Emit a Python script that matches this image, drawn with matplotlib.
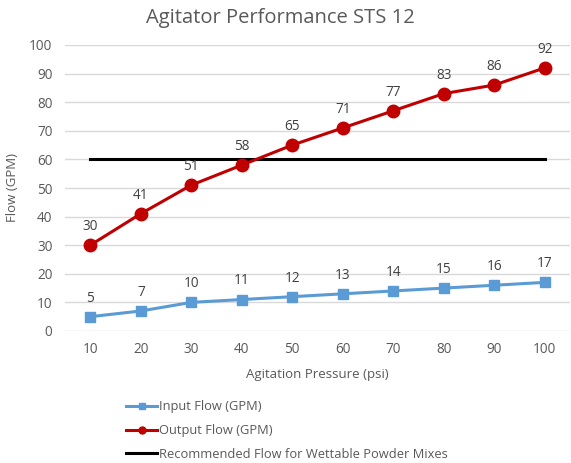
import matplotlib
matplotlib.use("Agg")
import matplotlib.pyplot as plt
from matplotlib.lines import Line2D

plt.rcParams['font.family'] = ['Open Sans', 'DejaVu Sans']

pressure = [10, 20, 30, 40, 50, 60, 70, 80, 90, 100]
input_flow = [5, 7, 10, 11, 12, 13, 14, 15, 16, 17]
output_flow = [30, 41, 51, 58, 65, 71, 77, 83, 86, 92]
recommended = [60] * 10
yticks = [0, 10, 20, 30, 40, 50, 60, 70, 80, 90, 100]

fig = plt.figure(figsize=(5.71, 4.63), dpi=100)
ax = fig.add_axes([65/571, 1 - 331/463, 505/571, (331 - 45)/463])

xs = list(range(len(pressure)))
blue = '#5B9BD5'
red = '#C00000'
txt = '#595959'

ax.plot(xs, recommended, color='black', lw=2.2, zorder=2, label='Recommended Flow for Wettable Powder Mixes')
ax.plot(xs, input_flow, color=blue, lw=2.2, marker='s', ms=7.5, zorder=3, label='Input Flow (GPM)')
ax.plot(xs, output_flow, color=red, lw=2.2, marker='o', ms=9, zorder=3, label='Output Flow (GPM)')

for x, v in zip(xs, input_flow):
    ax.annotate(str(v), (x, v), xytext=(0, 8), textcoords='offset points', ha='center', va='bottom', fontsize=9.8, color='#404040')
for x, v in zip(xs, output_flow):
    ax.annotate(str(v), (x, v), xytext=(0, 8), textcoords='offset points', ha='center', va='bottom', fontsize=9.8, color='#404040')

ax.set_xlim(-0.5, len(pressure) - 0.5)
ax.set_ylim(0, 100)
ax.set_yticks(yticks)
ax.set_xticks(xs)
ax.set_xticklabels([str(p) for p in pressure])
ax.grid(axis='y', color='#D9D9D9', lw=1)
ax.set_axisbelow(True)
for s in ax.spines.values():
    s.set_visible(False)
ax.tick_params(length=0, labelsize=9.8, colors=txt, pad=8)
ax.tick_params(axis='y', pad=9)

ax.set_xlabel('Agitation Pressure (psi)', fontsize=9.5, color=txt, labelpad=8)
fig.text(12/571, 1 - 188/463, 'Flow (GPM)', rotation=90, ha='center', va='center', fontsize=9.5, color=txt)
fig.text(280/571, 1 - 18/463, 'Agitator Performance STS 12', ha='center', va='center', fontsize=14.5, color=txt)

handles = [
    Line2D([], [], color=blue, lw=2.2, marker='s', ms=5),
    Line2D([], [], color=red, lw=2.2, marker='o', ms=5),
    Line2D([], [], color='black', lw=2.2),
]
labels = ['Input Flow (GPM)', 'Output Flow (GPM)', 'Recommended Flow for Wettable Powder Mixes']
leg = fig.legend(handles, labels, loc='upper left', bbox_to_anchor=(120/571, 1 - 394/463),
                 frameon=False, fontsize=9.3, handlelength=2.4, handletextpad=0.1,
                 labelspacing=0.82, borderpad=0)
for t in leg.get_texts():
    t.set_color(txt)

fig.savefig('out.png', dpi=100)
